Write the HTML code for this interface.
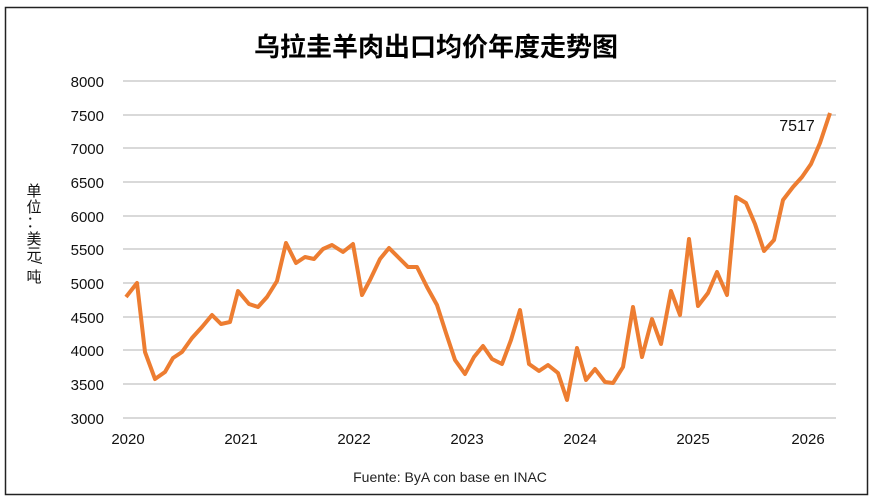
<!DOCTYPE html><html><head><meta charset="utf-8"><style>
body{margin:0;background:#fff;}
svg{display:block}
</style></head><body>
<svg width="873" height="501" xmlns="http://www.w3.org/2000/svg" font-family="'Liberation Sans','Noto Sans CJK SC',sans-serif">
<rect x="0" y="0" width="873" height="501" fill="#fff"/>
<rect x="5.5" y="7.5" width="862" height="487" fill="none" stroke="#222" stroke-width="1.5"/>
<text x="436" y="56" text-anchor="middle" font-size="26" font-weight="bold" fill="#000">乌拉圭羊肉出口均价年度走势图</text>
<g stroke="#d9d9d9" stroke-width="2">
<line x1="123" x2="836" y1="81" y2="81"/><line x1="123" x2="836" y1="115" y2="115"/>
<line x1="123" x2="836" y1="148" y2="148"/><line x1="123" x2="836" y1="182" y2="182"/>
<line x1="123" x2="836" y1="216" y2="216"/><line x1="123" x2="836" y1="249" y2="249"/>
<line x1="123" x2="836" y1="283" y2="283"/><line x1="123" x2="836" y1="317" y2="317"/>
<line x1="123" x2="836" y1="350" y2="350"/><line x1="123" x2="836" y1="384" y2="384"/>
<line x1="123" x2="836" y1="418" y2="418"/>
</g>
<g font-size="15" fill="#111" text-anchor="end">
<text x="104" y="87">8000</text><text x="104" y="121">7500</text><text x="104" y="154">7000</text>
<text x="104" y="188">6500</text><text x="104" y="222">6000</text><text x="104" y="255">5500</text>
<text x="104" y="289">5000</text><text x="104" y="323">4500</text><text x="104" y="356">4000</text>
<text x="104" y="390">3500</text><text x="104" y="424">3000</text>
</g>
<g font-size="15" fill="#111" text-anchor="middle">
<text x="128" y="444">2020</text><text x="241" y="444">2021</text><text x="354" y="444">2022</text>
<text x="467" y="444">2023</text><text x="580" y="444">2024</text><text x="693" y="444">2025</text>
<text x="808" y="444">2026</text>
</g>
<g font-size="15" fill="#111" text-anchor="middle">
<text x="34" y="196">单</text><text x="34" y="212">位</text><text x="34" y="227">：</text>
<text x="34" y="244">美</text><text x="34" y="259">元</text>
<text x="34" y="265" transform="rotate(90 34 262)">/</text>
<text x="34" y="282">吨</text>
</g>
<polyline fill="none" stroke="#ED7D31" stroke-width="4" stroke-linejoin="round" points="126,297 137,283 145,352 155,379 165,372 173,358 182,352 192,338 202,327 212,315 221,324 230,322 238,291 249,304 258,307 267,297 277,281 286,243 296,263 305,257 314,259 323,249 332,245 343,252 353,244 362,295 370,280 380,259 389,248 398,257 408,267 417,267 427,287 437,305 446,333 455,360 465,374 474,357 483,346 492,359 502,364 511,340 520,310 529,364 539,371 548,365 558,373 567,400 577,348 586,380 595,369 605,382 613,383 623,367 633,307 642,357 652,319 661,344 671,291 680,315 689,239 698,306 708,293 717,272 727,295 736,197 746,203 755,224 764,251 774,240 783,200 793,187 802,177 811,164 820,143 830,113"/>
<text x="797" y="131" text-anchor="middle" font-size="16" fill="#111">7517</text>
<text x="450" y="482" text-anchor="middle" font-size="14" fill="#222">Fuente: ByA con base en INAC</text>
</svg>
</body></html>
